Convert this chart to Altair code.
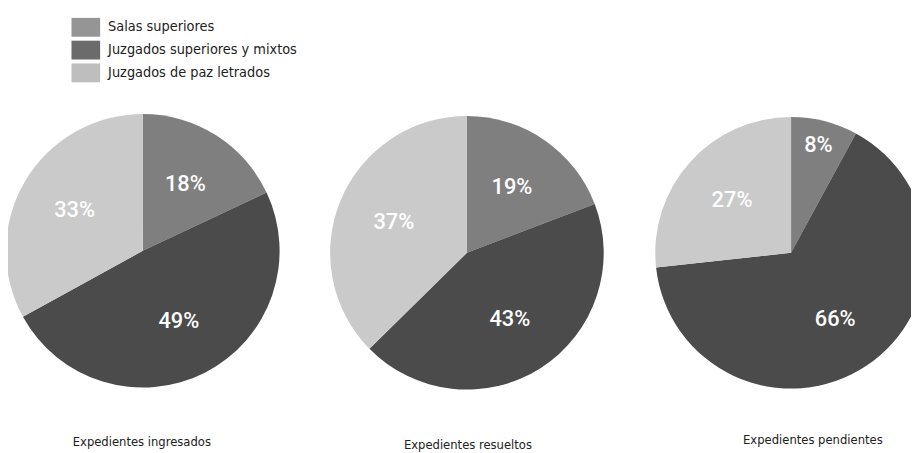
import altair as alt
import pandas as pd

charts = ["Expedientes ingresados", "Expedientes resueltos", "Expedientes pendientes"]
categories = ["Salas superiores", "Juzgados superiores y mixtos", "Juzgados de paz letrados"]
ingresados = [18, 49, 33]
resueltos = [19, 43, 37]
pendientes = [8, 66, 27]

pie_colors = ["#7f7f7f", "#4b4b4b", "#cacaca"]
legend_colors = ["#959595", "#6b6b6b", "#bebebe"]

rows = []
for chart_name, vals in zip(charts, [ingresados, resueltos, pendientes]):
    for i, (c, v) in enumerate(zip(categories, vals)):
        rows.append({"chart": chart_name, "category": c, "value": v,
                     "idx": i, "label": f"{v}%"})
df = pd.DataFrame(rows)

# layout: pie centre (x, y) and radius, caption position
pie_layout = [(136, 243, 138), (463, 245, 138), (790, 245, 137)]
caption_layout = [(135, 436), (464, 439), (812, 434)]

color_scale = alt.Scale(domain=categories, range=pie_colors)
cap_font = "DejaVu Sans Condensed, Liberation Sans, sans-serif"

# legend layer (drawn first, hidden under the first pie)
legend_layer = alt.Chart(df).transform_filter(alt.datum.chart == charts[0]).mark_point(
    filled=True, size=1
).encode(
    x=alt.value(pie_layout[0][0]), y=alt.value(pie_layout[0][1]),
    fill=alt.Fill(
        "category:N",
        scale=alt.Scale(domain=categories, range=legend_colors),
        legend=alt.Legend(
            title=None, orient="none", legendX=69, legendY=8,
            symbolType="M-1.52,-1L1.52,-1L1.52,1L-1.52,1Z",
            symbolSize=361, symbolStrokeWidth=0, symbolOpacity=1,
            labelFont=cap_font, labelFontSize=14.5, labelLimit=0,
            labelColor="#222222", labelOffset=13, rowPadding=4, padding=0,
        ),
    ),
)

layers = [legend_layer]
for name, (cx, cy, r), (tx, ty) in zip(charts, pie_layout, caption_layout):
    base = alt.Chart(df).transform_filter(alt.datum.chart == name)
    arc = base.mark_arc(radius=r, strokeWidth=0).encode(
        x=alt.value(cx), y=alt.value(cy),
        theta=alt.Theta("value:Q", stack="normalize"),
        color=alt.Color("category:N", scale=color_scale, legend=None),
        order=alt.Order("idx:Q"),
    )
    txt = base.mark_text(
        font="Roboto", fontSize=22, fontWeight=500, color="#ffffff",
        radius=alt.expr("datum.value < 15 ? 112 : 80"),
    ).encode(
        x=alt.value(cx), y=alt.value(cy),
        theta=alt.Theta("value:Q", stack="normalize"),
        text="label:N",
        order=alt.Order("idx:Q"),
    )
    cap = alt.Chart(pd.DataFrame({"chart": [name]})).mark_text(
        font=cap_font, fontSize=13, color="#222222", baseline="middle"
    ).encode(x=alt.value(tx), y=alt.value(ty), text="chart:N")
    layers += [arc, txt, cap]

chart = alt.layer(*layers).properties(
    width=911, height=445, padding=0, autosize=alt.AutoSizeParams(type="none")
).configure_view(stroke=None)

chart.save("out.html", embed_options={"renderer": "svg", "actions": False})
